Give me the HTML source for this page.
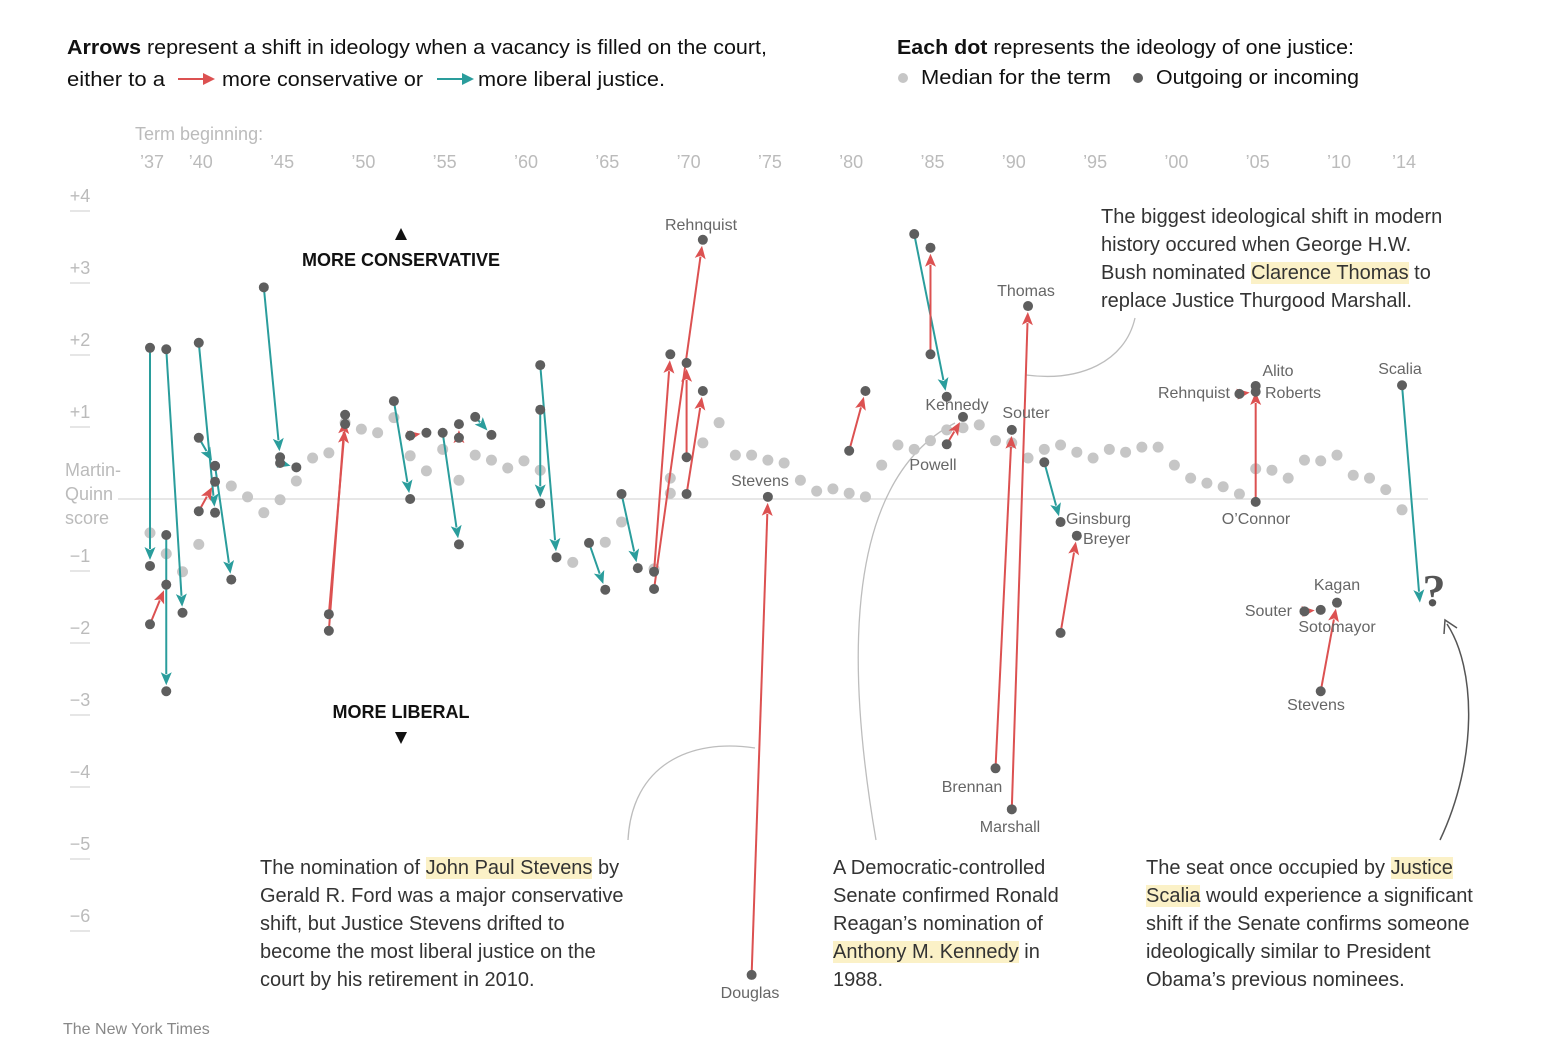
<!DOCTYPE html>
<html><head><meta charset="utf-8">
<style>
body{margin:0;background:#fff;}
#wrap{position:relative;width:1546px;height:1064px;overflow:hidden;font-family:"Liberation Sans",sans-serif;}
.ann{position:absolute;font-size:20px;line-height:28px;color:#333;white-space:nowrap;}
.hl{background:#fbf1c7;}
</style></head>
<body>
<div id="wrap">
<svg id="chart" width="1546" height="1064" style="position:absolute;left:0;top:0">
  <g>
    <text x="67" y="54" font-size="20" fill="#111" textLength="700" lengthAdjust="spacingAndGlyphs"><tspan font-weight="bold">Arrows</tspan> represent a shift in ideology when a vacancy is filled on the court,</text>
    <text x="67" y="86" font-size="20" fill="#111" textLength="98" lengthAdjust="spacingAndGlyphs">either to a</text>
    <line x1="178" y1="79" x2="206" y2="79" stroke="#dc5151" stroke-width="2"/>
    <polygon points="215,79 203,73 203,85" fill="#dc5151"/>
    <text x="222" y="86" font-size="20" fill="#111" textLength="201" lengthAdjust="spacingAndGlyphs">more conservative or</text>
    <line x1="437" y1="79" x2="465" y2="79" stroke="#2a9d9c" stroke-width="2"/>
    <polygon points="474,79 462,73 462,85" fill="#2a9d9c"/>
    <text x="478" y="86" font-size="20" fill="#111" textLength="187" lengthAdjust="spacingAndGlyphs">more liberal justice.</text>
  </g>
  <g>
    <text x="897" y="54" font-size="20" fill="#111" textLength="457" lengthAdjust="spacingAndGlyphs"><tspan font-weight="bold">Each dot</tspan> represents the ideology of one justice:</text>
    <circle cx="903" cy="78" r="5" fill="#c6c6c6"/>
    <text x="921" y="84" font-size="20" fill="#111" textLength="190" lengthAdjust="spacingAndGlyphs">Median for the term</text>
    <circle cx="1138" cy="78" r="5" fill="#5e5e5e"/>
    <text x="1156" y="84" font-size="20" fill="#111" textLength="203" lengthAdjust="spacingAndGlyphs">Outgoing or incoming</text>
  </g>
  <text x="135" y="140" font-size="18" fill="#bbb">Term beginning:</text>
  <g id="xticks"></g>
  <g id="yticks"></g>
  <g font-size="18" fill="#bbb">
    <text x="65" y="476">Martin-</text><text x="65" y="500">Quinn</text><text x="65" y="524">score</text>
  </g>
  <line x1="118" y1="499" x2="1428" y2="499" stroke="#cfcfcf" stroke-width="1"/>
  <g font-weight="bold" font-size="18" fill="#111" text-anchor="middle">
    <polygon points="401,228 395,240 407,240" fill="#111"/>
    <text x="401" y="266">MORE CONSERVATIVE</text>
    <text x="401" y="718">MORE LIBERAL</text>
    <polygon points="401,744 395,732 407,732" fill="#111"/>
  </g>
  <g fill="none" stroke="#bdbdbd" stroke-width="1.3">
    <path d="M628,840 C632,765 690,738 755,748"/>
    <path d="M876,840 C845,660 845,480 955,423"/>
    <path d="M1026,375 C1080,382 1125,362 1135,318"/>
  </g>
  <g>
    <path d="M1440,840 C1478,760 1476,668 1447,624" fill="none" stroke="#555" stroke-width="1.5"/>
    <path d="M1444,634 L1445,620 L1457,628" fill="none" stroke="#555" stroke-width="1.5"/>
  </g>
  <g id="medians"></g>
  <g id="arrows"></g>
  <g id="dots"></g>
  <text x="1434" y="606" font-size="46" font-weight="bold" font-family="Liberation Serif,serif" fill="#555" text-anchor="middle">?</text>
  <g font-size="16" fill="#666" text-anchor="middle">
    <text x="701" y="230">Rehnquist</text>
    <text x="760" y="486">Stevens</text>
    <text x="750" y="998">Douglas</text>
    <text x="957" y="410">Kennedy</text>
    <text x="1026" y="418">Souter</text>
    <text x="933" y="470">Powell</text>
    <text x="1026" y="296">Thomas</text>
    <text x="972" y="792">Brennan</text>
    <text x="1010" y="832">Marshall</text>
    <text x="1066" y="524" text-anchor="start">Ginsburg</text>
    <text x="1083" y="544" text-anchor="start">Breyer</text>
    <text x="1278" y="376">Alito</text>
    <text x="1230" y="398" text-anchor="end">Rehnquist</text>
    <text x="1265" y="398" text-anchor="start">Roberts</text>
    <text x="1256" y="524">O’Connor</text>
    <text x="1400" y="374">Scalia</text>
    <text x="1337" y="590">Kagan</text>
    <text x="1292" y="616" text-anchor="end">Souter</text>
    <text x="1337" y="632">Sotomayor</text>
    <text x="1316" y="710">Stevens</text>
  </g>
  <text x="63" y="1034" font-size="16" fill="#888">The New York Times</text>
</svg>

<div class="ann" style="left:1101px;top:203px">The biggest ideological shift in modern<br>history occured when George H.W.<br>Bush nominated <span class="hl">Clarence Thomas</span> to<br>replace Justice Thurgood Marshall.</div>
<div class="ann" style="left:260px;top:854px">The nomination of <span class="hl">John Paul Stevens</span> by<br>Gerald R. Ford was a major conservative<br>shift, but Justice Stevens drifted to<br>become the most liberal justice on the<br>court by his retirement in 2010.</div>
<div class="ann" style="left:833px;top:854px">A Democratic-controlled<br>Senate confirmed Ronald<br>Reagan’s nomination of<br><span class="hl">Anthony M. Kennedy</span> in<br>1988.</div>
<div class="ann" style="left:1146px;top:854px">The seat once occupied by <span class="hl">Justice</span><br><span class="hl">Scalia</span> would experience a significant<br>shift if the Senate confirms someone<br>ideologically similar to President<br>Obama’s previous nominees.</div>
</div>

<script>
const xTickYears = [1937,1940,1945,1950,1955,1960,1965,1970,1975,1980,1985,1990,1995,2000,2005,2010,2014];
const xTickLabels = ["’37","’40","’45","’50","’55","’60","’65","’70","’75","’80","’85","’90","’95","’00","’05","’10","’14"];
const yTickValues = [4,3,2,1,-1,-2,-3,-4,-5,-6];
const yTickLabels = ["+4","+3","+2","+1","−1","−2","−3","−4","−5","−6"];

const medianYears = [1937,1938,1939,1940,1942,1943,1944,1945,1946,1947,1948,1949,1950,1951,1952,1953,1954,1955,1956,1957,1958,1959,1960,1961,1963,1965,1966,1968,1969,1969,1971,1972,1973,1974,1975,1976,1977,1978,1979,1980,1981,1982,1983,1984,1985,1986,1987,1988,1989,1990,1991,1992,1993,1994,1995,1996,1997,1998,1999,2000,2001,2002,2003,2004,2005,2006,2007,2008,2009,2010,2011,2012,2013,2014];
const medianScores = [-0.47,-0.76,-1.01,-0.63,0.18,0.03,-0.19,-0.01,0.25,0.57,0.64,1.06,0.97,0.92,1.13,0.6,0.39,0.69,0.26,0.61,0.54,0.43,0.53,0.4,-0.88,-0.6,-0.32,-0.97,0.29,0.08,0.78,1.06,0.61,0.61,0.54,0.5,0.26,0.11,0.14,0.08,0.03,0.47,0.75,0.69,0.81,0.96,0.99,1.03,0.81,0.78,0.57,0.69,0.75,0.65,0.57,0.69,0.65,0.72,0.72,0.47,0.29,0.22,0.17,0.07,0.42,0.4,0.29,0.54,0.53,0.61,0.33,0.29,0.13,-0.15];

const fromYears  = [1937,1938,1937,1938,1940,1940,1941,1940,1944,1945,1948,1948,1952,1953,1955,1956,1957,1961,1961,1964,1966,1968,1968,1970,1970,1974,1980,1984,1985,1986,1989,1990,1992,1993,2004,2005,2008,2009,2014];
const fromScores = [2.1,2.08,-1.74,-0.5,2.17,0.85,0.46,-0.17,2.94,0.5,-1.83,-1.6,1.36,0.88,0.92,0.85,1.14,1.86,1.24,-0.61,0.07,-1.25,-1.01,0.58,0.07,-6.61,0.67,3.68,2.01,0.76,-3.74,-4.31,0.51,-1.86,1.46,-0.04,-1.56,-2.67,1.58];
const toYears    = [1937,1939,1938,1938,1941,1941,1942,1941,1945,1946,1949,1949,1953,1954,1956,1956,1958,1962,1961,1965,1967,1971,1969,1970,1971,1975,1981,1986,1985,1987,1990,1991,1993,1994,2005,2005,2009,2010,2015.1];
const toScores   = [-0.93,-1.58,-1.19,-2.67,-0.19,0.46,-1.12,0.24,0.58,0.44,1.17,1.04,0.0,0.92,-0.63,1.04,0.89,-0.81,-0.06,-1.26,-0.96,3.6,2.01,1.89,1.5,0.03,1.5,1.42,3.49,1.14,0.96,2.68,-0.32,-0.51,1.49,1.57,-1.54,-1.44,-1.44];
const toHasDot   = [1,1,1,1,1,1,1,1,1,1,1,1,1,1,1,1,1,1,1,1,1,1,1,1,1,1,1,1,1,1,1,1,1,1,1,1,1,1,0];

const NS = "http://www.w3.org/2000/svg";
function xs(y){ return 150 + (y - 1937) * 16.26; }
function ys(s){ return 499 - 72 * s; }
function mk(tag, attrs, parent){
  const e = document.createElementNS(NS, tag);
  for (const k in attrs) e.setAttribute(k, attrs[k]);
  parent.appendChild(e);
  return e;
}

const gx = document.getElementById('xticks');
xTickYears.forEach((yr, i) => {
  const t = mk('text', {x: xs(yr) + 2, y: 168, 'font-size': 18, fill: '#bbb', 'text-anchor': 'middle'}, gx);
  
  
  t.textContent = xTickLabels[i];
});

const gy = document.getElementById('yticks');
yTickValues.forEach((v, i) => {
  const yy = ys(v);
  const l = mk('line', {x1: 70, x2: 90, y1: yy, y2: yy, stroke: '#ccc', 'stroke-width': 1}, gy);
  
  
  const t = mk('text', {x: 80, y: yy - 9, 'font-size': 18, fill: '#bbb', 'text-anchor': 'middle'}, gy);
  
  
  t.textContent = yTickLabels[i];
});

const gm = document.getElementById('medians');
medianYears.forEach((yr, i) => {
  const c = mk('circle', {cx: xs(yr), cy: ys(medianScores[i]), r: 5.5, fill: '#c6c6c6'}, gm);
  
  
});

const ga = document.getElementById('arrows');
const gd = document.getElementById('dots');
fromYears.forEach((fy, i) => {
  const x1 = xs(fy), y1 = ys(fromScores[i]);
  const x2 = xs(toYears[i]), y2 = ys(toScores[i]);
  const up = toScores[i] > fromScores[i];
  const col = up ? '#dc5151' : '#2a9d9c';
  const dx = x2 - x1, dy = y2 - y1, len = Math.hypot(dx, dy);
  const ux = dx / len, uy = dy / len;
  const gap = toHasDot[i] ? 6 : 0;
  const tx = x2 - ux * gap, ty = y2 - uy * gap;
  const hl = 13, hw = 5.5;
  const bx = tx - ux * hl, by = ty - uy * hl;
  const ln = mk('line', {x1: x1, y1: y1, x2: bx + ux * 2, y2: by + uy * 2, stroke: col, 'stroke-width': 2}, ga);
  
  
  const pts = [tx + ',' + ty, (bx - uy * hw) + ',' + (by + ux * hw), (bx + ux * 3) + ',' + (by + uy * 3), (bx + uy * hw) + ',' + (by - ux * hw)].join(' ');
  const hd = mk('polygon', {points: pts, fill: col}, ga);
  
  
  const c1 = mk('circle', {cx: x1, cy: y1, r: 5, fill: '#5e5e5e'}, gd);
  
  
  if (toHasDot[i]) {
    const c2 = mk('circle', {cx: x2, cy: y2, r: 5, fill: '#5e5e5e'}, gd);
    
    
  }
});
</script>
</body></html>
